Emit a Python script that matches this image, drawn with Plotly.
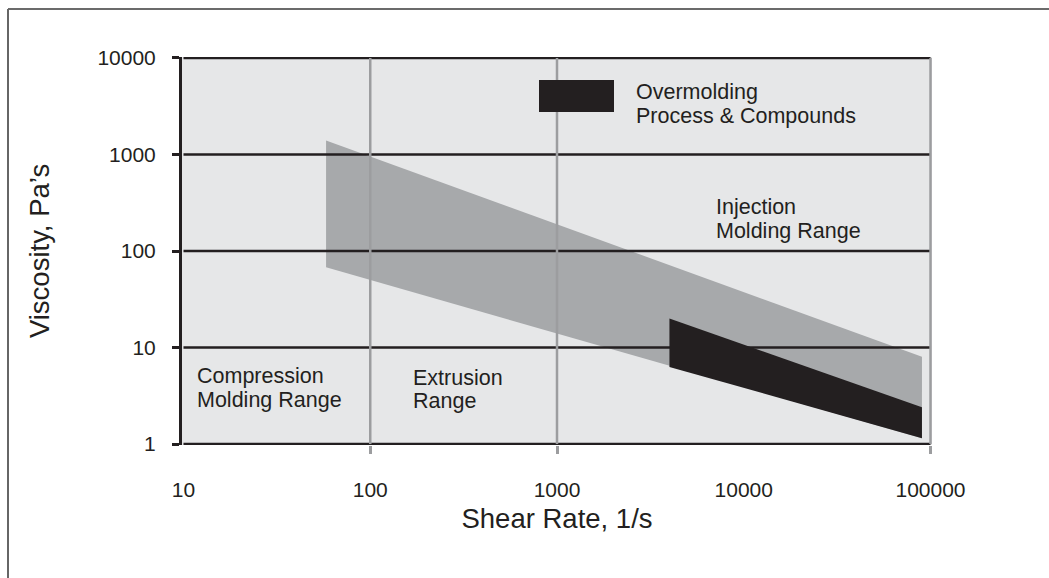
import plotly.graph_objects as go

# ---- data ----
x_ticks = [10, 100, 1000, 10000, 100000]
x_tick_text = ["10", "100", "1000", "10000", "100000"]
y_ticks = [1, 10, 100, 1000, 10000]
y_tick_text = ["1", "10", "100", "1000", "10000"]
x_grid = [100, 1000, 100000]

shear_gray = [58, 90000, 90000, 58]
visc_gray = [1400, 8.0, 1.15, 68]
shear_black = [4000, 90000, 90000, 4000]
visc_black = [20, 2.4, 1.15, 6.3]

BG = "#e6e7e8"
BAND = "#a7a9ab"
BLACK = "#231f20"
VGRID = "#9c9d9f"
FONT = "Liberation Sans, Arial, sans-serif"

fig = go.Figure()

# gray band (injection / general range)
fig.add_trace(go.Scatter(x=shear_gray + [shear_gray[0]], y=visc_gray + [visc_gray[0]],
                         mode="lines", fill="toself", fillcolor=BAND,
                         line=dict(width=0), hoverinfo="skip", showlegend=False))

# horizontal grid lines (drawn above the gray band)
hx, hy = [], []
for v in y_ticks:
    hx += [x_ticks[0], x_ticks[-1], None]
    hy += [v, v, None]
fig.add_trace(go.Scatter(x=hx, y=hy, mode="lines", line=dict(color=BLACK, width=2.6),
                         hoverinfo="skip", showlegend=False))

# vertical grid lines
vx, vy = [], []
for v in x_grid:
    vx += [v, v, None]
    vy += [y_ticks[0], y_ticks[-1], None]
fig.add_trace(go.Scatter(x=vx, y=vy, mode="lines", line=dict(color=VGRID, width=2.5),
                         hoverinfo="skip", showlegend=False))

# black band (overmolding)
fig.add_trace(go.Scatter(x=shear_black + [shear_black[0]], y=visc_black + [visc_black[0]],
                         mode="lines", fill="toself", fillcolor=BLACK,
                         line=dict(width=0), hoverinfo="skip", showlegend=False))

# invisible trace on label axis
fig.add_trace(go.Scatter(x=x_ticks, y=[y_ticks[0]] * len(x_ticks), xaxis="x2",
                         mode="markers", marker=dict(opacity=0), hoverinfo="skip",
                         showlegend=False))

L, R, T, B = 182, 117, 57, 133
W, H = 1049, 578
pw = W - L - R
ph = H - T - B


def px(x):
    return (x - L) / pw


def py(y):
    return (H - B - y) / ph


ann_font = dict(family=FONT, size=21.5, color=BLACK)
label_lines = [
    ("Compression", 195, 376),
    ("Molding Range", 195, 400),
    ("Extrusion", 411, 378),
    ("Range", 411, 401),
    ("Injection", 714, 207),
    ("Molding Range", 714, 231),
    ("Overmolding", 634, 92),
    ("Process &amp; Compounds", 634, 116),
]
annotations = [
    dict(text=t, x=px(xp), y=py(yp), xref="paper", yref="paper", xanchor="left",
         yanchor="middle", align="left", showarrow=False, font=ann_font)
    for t, xp, yp in label_lines
]

shapes = [
    # legend swatch for overmolding
    dict(type="rect", xref="paper", yref="paper", x0=px(539), x1=px(614), y0=py(112), y1=py(80),
         fillcolor=BLACK, line=dict(width=0), layer="above"),
    # outer frame lines (top and left)
    dict(type="line", xref="paper", yref="paper", x0=px(8), x1=px(W + 5), y0=py(9), y1=py(9),
         line=dict(color="#3a3a3a", width=1.5)),
    dict(type="line", xref="paper", yref="paper", x0=px(8), x1=px(8), y0=py(9), y1=py(H + 5),
         line=dict(color="#666666", width=2)),
]

xr = [0.992, 5.008]
fig.update_layout(
    width=W, height=H,
    margin=dict(l=L, r=R, t=T, b=B),
    paper_bgcolor="white", plot_bgcolor=BG,
    font=dict(family=FONT, size=21, color=BLACK),
    annotations=annotations, shapes=shapes,
    xaxis=dict(type="log", range=xr, showgrid=False, zeroline=False,
               tickmode="array", tickvals=x_grid, ticks="outside", ticklen=8,
               tickwidth=2.5, tickcolor=VGRID, showticklabels=False, showline=False),
    xaxis2=dict(type="log", range=xr, overlaying="x", side="bottom", anchor="y",
                showgrid=False, zeroline=False, showline=False, ticks="",
                tickmode="array", tickvals=x_ticks, ticktext=x_tick_text,
                ticklabelstandoff=30, tickfont=dict(size=21),
                title=dict(text="Shear Rate, 1/s", font=dict(size=27.5), standoff=8)),
    yaxis=dict(type="log", range=[-0.01, 4.01], showgrid=False, zeroline=False,
               tickmode="array", tickvals=y_ticks, ticktext=y_tick_text,
               ticks="outside", ticklen=7, tickwidth=2.5, tickcolor=BLACK,
               showline=True, linecolor=BLACK, linewidth=3,
               ticklabelstandoff=12, tickfont=dict(size=21),
               title=dict(text="Viscosity, Pa’s", font=dict(size=27.5), standoff=40)),
)

fig.write_html("out.html", config={"displayModeBar": False},
               post_script="document.body.style.margin='0';")
